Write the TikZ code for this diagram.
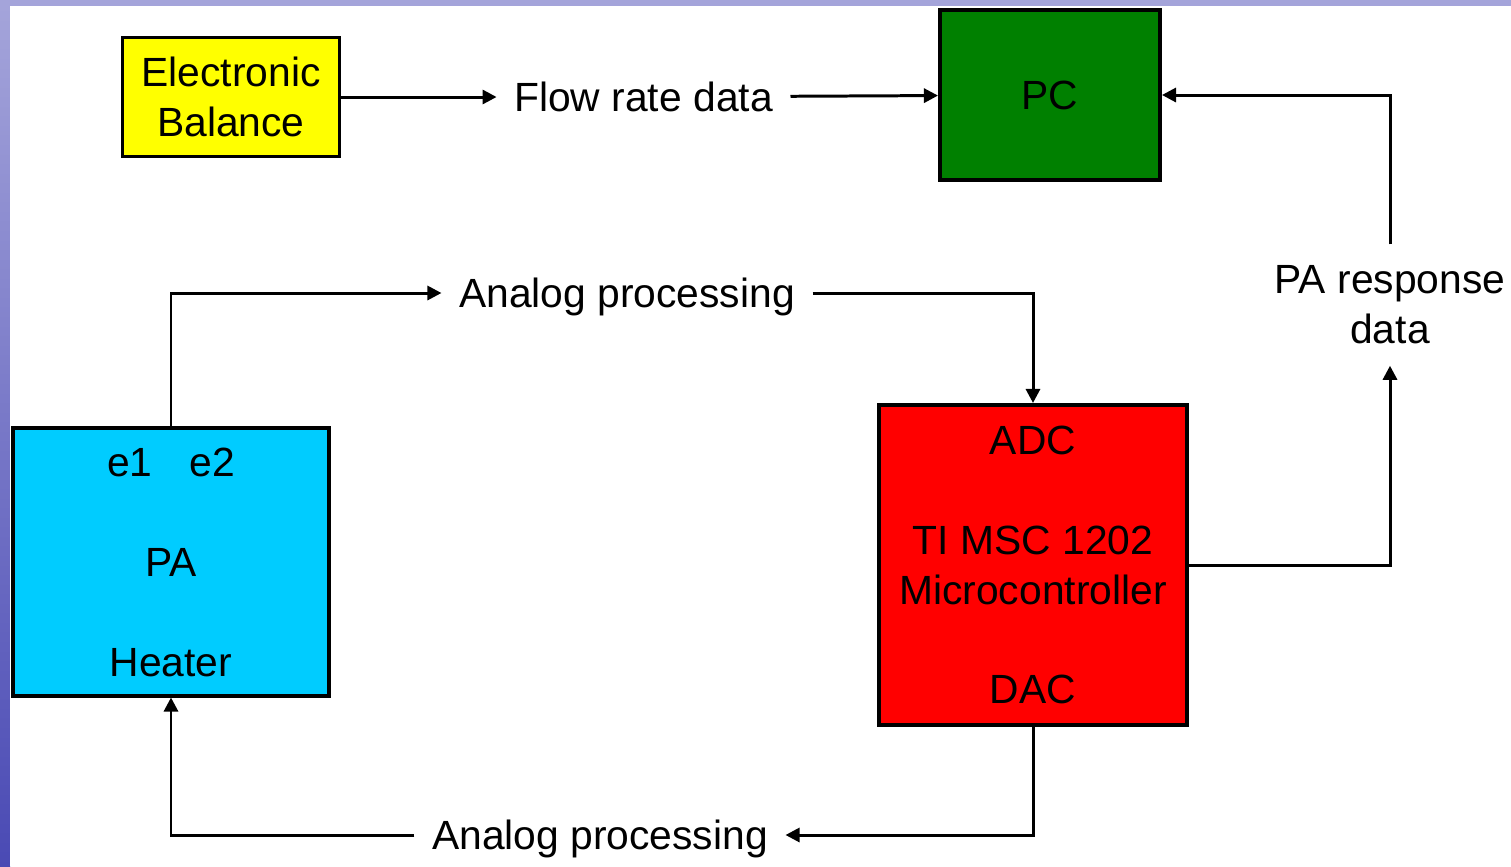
\documentclass[tikz,border=0pt]{standalone}
\usepackage{fontspec}
\setmainfont{Liberation Sans}
\usetikzlibrary{arrows.meta,positioning}
\definecolor{balfill}{HTML}{FFFF00}
\definecolor{pcfill}{HTML}{008000}
\definecolor{pafill}{HTML}{00CCFF}
\definecolor{mcufill}{HTML}{FF0000}
\definecolor{slideedge}{HTML}{A4A4DA}
\definecolor{slidedeep}{HTML}{4A4AB4}
\newcommand{\diagfont}{\fontsize{11.6}{14.2}\selectfont}

\begin{document}
\begin{tikzpicture}[x=0.01cm, y=-0.01cm,
  block/.style={draw, line width=1.1pt, align=center, font=\diagfont, inner sep=0pt},
  lbl/.style={align=center, font=\diagfont, inner xsep=0.17cm, inner ysep=0.1cm},
  arr/.style={-{Triangle[length=4pt,width=4pt]}, line width=0.85pt}
]
  % slide background
  \fill[slideedge] (0,0) rectangle (1511,866);
  \shade[top color=slideedge, bottom color=slidedeep] (0,6) rectangle (10,866);
  \fill[white] (10,6) rectangle (1511,866);
  \useasboundingbox (0,0) rectangle (1511,866);

  \node[block, fill=balfill, minimum width=2.17cm, minimum height=1.19cm] (bal) at (231,97) {Electronic\\Balance};
  \node[lbl, right=1.55cm of bal] (flow) {Flow rate data};
  \node[block, fill=pcfill, minimum width=2.2cm, minimum height=1.7cm] (pc) at (1050,95) {PC};
  \node[block, fill=pafill, minimum width=3.15cm, minimum height=2.67cm] (pa) at (171,562) {e1\hspace{0.37cm}e2\\[0.5cm]PA\\[0.5cm]Heater};
  \node[block, fill=mcufill, minimum width=3.07cm, minimum height=3.2cm] (mcu) at (1033,565) {ADC\\[0.5cm]TI MSC 1202\\Microcontroller\\[0.5cm]DAC};
  \node[lbl, text depth=0pt] (ana1) at (627,293) {Analog processing};
  \node[lbl, text depth=0pt] (ana2) at (600,835) {Analog processing};
  \node[lbl, minimum height=1.2cm] (resp) at (1390,305) {PA response\\data};

  \draw[arr] (bal) -- (flow);
  \draw[arr] (flow) -- (pc);
  \draw[arr] (pa) |- (ana1);
  \draw[arr] (ana1) -| (mcu);
  \draw[arr] (mcu) -| (resp);
  \draw[arr] (resp) |- (pc);
  \draw[arr] (mcu) |- (ana2);
  \draw[arr] (ana2) -| (pa);
\end{tikzpicture}
\end{document}
